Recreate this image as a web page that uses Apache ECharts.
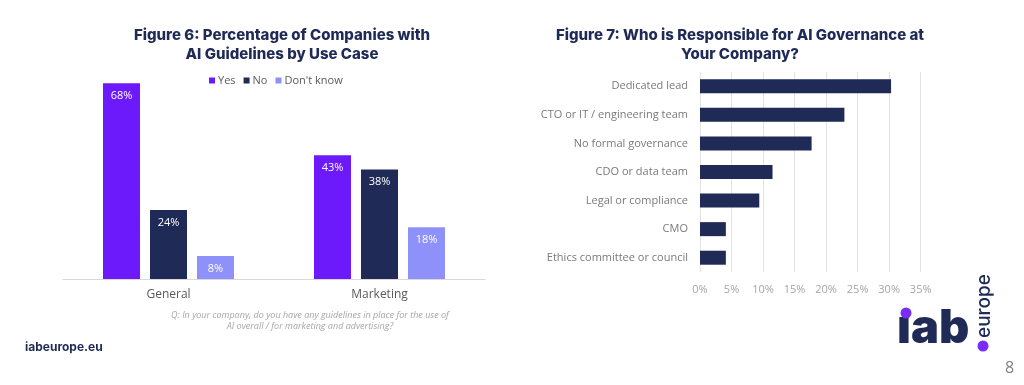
<!DOCTYPE html>
<html>
<head>
<meta charset="utf-8">
<script src="https://cdn.jsdelivr.net/npm/echarts@6/dist/echarts.min.js"></script>
<style>html,body{margin:0;padding:0;background:#fff}#c{width:1024px;height:385px}</style>
</head>
<body>
<div id="c"></div>
<script>
// Figure 6 data
const useCases = ['General', 'Marketing'];
const yesValues = [68, 43];
const noValues = [24, 38];
const dontKnowValues = [8, 18];
const seriesNames = ['Yes', 'No', "Don't know"];

// Figure 7 data
const roles = ['Dedicated lead', 'CTO or IT / engineering team', 'No formal governance', 'CDO or data team', 'Legal or compliance', 'CMO', 'Ethics committee or council'];
const roleValues = [30.3, 22.9, 17.7, 11.5, 9.4, 4.1, 4.1];
const xTicks = [0, 5, 10, 15, 20, 25, 30, 35];

const NAVY = '#1f2a56';
const PURPLE = '#6c19fb';
const LIGHT = '#8f91fb';
const titleFont = 'Inter, "Noto Sans", sans-serif';
const bodyFont = '"Open Sans", "Noto Sans", sans-serif';

const chart = echarts.init(document.getElementById('c'), null, {renderer: 'canvas'});

const labelCfg = {show: true, position: 'insideTop', distance: 7, color: '#fff', fontSize: 11, fontFamily: bodyFont, formatter: '{c}%'};

chart.setOption({
  animation: false,
  textStyle: {fontFamily: bodyFont},
  title: [
    {text: 'Figure 6: Percentage of Companies with\nAI Guidelines by Use Case', left: 277, top: 21, textAlign: 'center',
     textStyle: {fontFamily: titleFont, fontWeight: 800, fontSize: 15, color: NAVY, lineHeight: 19}},
    {text: 'Figure 7: Who is Responsible for AI Governance at\nYour Company?', left: 735, top: 21, textAlign: 'center',
     textStyle: {fontFamily: titleFont, fontWeight: 800, fontSize: 15, color: NAVY, lineHeight: 19}}
  ],
  legend: {
    data: seriesNames, left: 204, top: 70, itemWidth: 6, itemHeight: 6, itemGap: 8, icon: 'rect',
    textStyle: {fontSize: 11, color: '#595959', fontFamily: bodyFont, padding: [0, 0, 0, -2]}
  },
  grid: [
    {left: 63, right: 539, top: 77.4, bottom: 106, containLabel: false},
    {left: 700, right: 103.3, top: 72, bottom: 113, containLabel: false}
  ],
  xAxis: [
    {type: 'category', gridIndex: 0, data: useCases,
     axisLine: {lineStyle: {color: '#d9d9d9', width: 1}}, axisTick: {show: false},
     axisLabel: {color: '#595959', fontSize: 12, margin: 10, fontFamily: bodyFont}},
    {type: 'value', gridIndex: 1, min: 0, max: 35, interval: 5,
     axisLine: {show: false}, axisTick: {show: false},
     splitLine: {lineStyle: {color: '#e3e3e3'}},
     axisLabel: {color: '#a6a6a6', fontSize: 11, margin: 12, fontFamily: bodyFont, formatter: function (v) { return xTicks.indexOf(v) >= 0 ? v + '%' : ''; }}}
  ],
  yAxis: [
    {type: 'value', gridIndex: 0, min: 0, max: 70, show: false, splitLine: {show: false}},
    {type: 'category', gridIndex: 1, data: roles, inverse: true,
     axisLine: {show: false}, axisTick: {show: false},
     axisLabel: {color: '#7a7a7a', fontSize: 11, margin: 12, fontFamily: bodyFont}}
  ],
  series: [
    {name: seriesNames[0], type: 'bar', xAxisIndex: 0, yAxisIndex: 0, data: yesValues, barWidth: 37, barGap: '27%', itemStyle: {color: PURPLE}, label: labelCfg},
    {name: seriesNames[1], type: 'bar', xAxisIndex: 0, yAxisIndex: 0, data: noValues, barWidth: 37, barGap: '27%', itemStyle: {color: NAVY}, label: labelCfg},
    {name: seriesNames[2], type: 'bar', xAxisIndex: 0, yAxisIndex: 0, data: dontKnowValues, barWidth: 37, barGap: '27%', itemStyle: {color: LIGHT}, label: labelCfg},
    {name: 'Governance', type: 'bar', xAxisIndex: 1, yAxisIndex: 1, data: roleValues, barWidth: 14, itemStyle: {color: NAVY}}
  ],
  graphic: [
    {type: 'text', x: 310, y: 311, style: {text: 'Q: In your company, do you have any guidelines in place for the use of', fill: '#a6a6a6', fontSize: 9, fontStyle: 'italic', fontFamily: bodyFont, align: 'center'}},
    {type: 'text', x: 310, y: 322, style: {text: 'AI overall / for marketing and advertising?', fill: '#a6a6a6', fontSize: 9, fontStyle: 'italic', fontFamily: bodyFont, align: 'center'}},
    {type: 'text', x: 25, y: 341, style: {text: 'iabeurope.eu', fill: NAVY, fontSize: 12, fontWeight: 'bold', fontFamily: titleFont}},
    {type: 'text', x: 897, y: 305, style: {text: '\u0131ab', fill: NAVY, fontSize: 47, fontWeight: 900, fontFamily: titleFont}},
    {type: 'circle', shape: {cx: 906, cy: 313, r: 5.5}, style: {fill: '#7a2cf7'}},
    {type: 'circle', shape: {cx: 983, cy: 346, r: 5.5}, style: {fill: '#7a2cf7'}},
    {type: 'text', x: 975, y: 338, rotation: Math.PI / 2, style: {text: 'europe', fill: NAVY, fontSize: 19, fontFamily: titleFont, fontWeight: 500}},
    {type: 'text', x: 1005, y: 360, style: {text: '8', fill: '#7f7f7f', fontSize: 16, fontFamily: bodyFont}}
  ]
});
</script>
</body>
</html>
